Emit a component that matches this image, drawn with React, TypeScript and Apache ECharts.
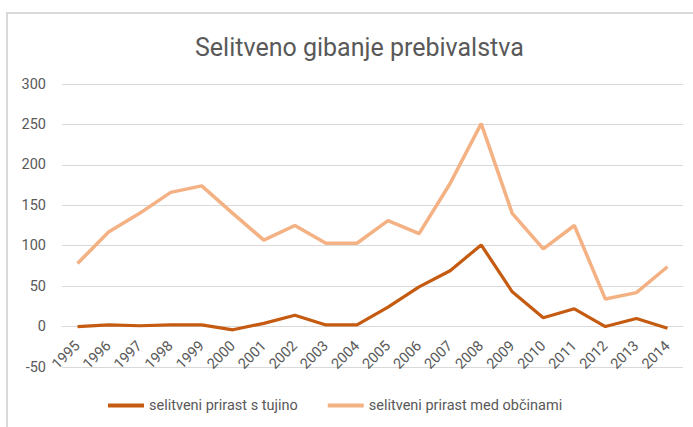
import React, { useEffect, useRef } from "react";
import * as echarts from "echarts";

const categories = ["1995","1996","1997","1998","1999","2000","2001","2002","2003","2004","2005","2006","2007","2008","2009","2010","2011","2012","2013","2014"];
const foreignValues = [0, 2, 1, 2, 2, -4, 4, 14, 2, 2, 24, 49, 69, 101, 43, 11, 22, 0, 10, -2];
const municipalValues = [78, 117, 140, 166, 174, 140, 107, 125, 103, 103, 131, 115, 177, 251, 140, 96, 125, 34, 42, 74];
const seriesNames = ["selitveni prirast s tujino", "selitveni prirast med občinami"];
const titleText = "Selitveno gibanje prebivalstva";

export default function App() {
  const ref = useRef<HTMLDivElement>(null);
  useEffect(() => {
    if (!ref.current) return;
    const chart = echarts.init(ref.current, null, { renderer: "svg" });
    const font = "Roboto";
    chart.setOption({
      animation: false,
      backgroundColor: "#ffffff",
      title: {
        text: titleText,
        left: 190,
        top: 30,
        textStyle: { fontFamily: font, fontSize: 25, fontWeight: "normal", color: "#595959" },
      },
      graphic: [
        {
          type: "rect",
          shape: { x: 7, y: 13, width: 720, height: 440 },
          style: { fill: "none", stroke: "#d9d9d9", lineWidth: 2 },
          silent: true,
        },
      ],
      legend: {
        left: 103,
        top: 393,
        itemWidth: 36,
        itemHeight: 4,
        itemGap: 30,
        icon: "rect",
        textStyle: { fontFamily: font, fontSize: 14.5, color: "#595959" },
        data: seriesNames,
      },
      grid: { left: 62, right: 10, top: 84, bottom: 60, containLabel: false },
      xAxis: {
        type: "category",
        data: categories,
        boundaryGap: true,
        offset: -40.4,
        axisLine: { show: true, onZero: false, lineStyle: { color: "#d9d9d9" } },
        axisTick: { show: false },
        axisLabel: { interval: 0, rotate: 45, margin: 17, fontFamily: font, fontSize: 14.5, color: "#595959" },
      },
      yAxis: {
        type: "value",
        min: -50,
        max: 300,
        interval: 50,
        axisLine: { show: false },
        axisTick: { show: false },
        axisLabel: { margin: 16, fontFamily: font, fontSize: 14.5, color: "#595959" },
        splitLine: { lineStyle: { color: "#d9d9d9", width: 1 } },
      },
      series: [
        {
          name: seriesNames[0],
          type: "line",
          data: foreignValues,
          symbol: "none",
          itemStyle: { color: "#C55A11" },
          lineStyle: { color: "#C55A11", width: 3.2 },
        },
        {
          name: seriesNames[1],
          type: "line",
          data: municipalValues,
          symbol: "none",
          itemStyle: { color: "#F4B183" },
          lineStyle: { color: "#F4B183", width: 3.5 },
        },
      ],
    });
    return () => chart.dispose();
  }, []);
  return (
    <div
      ref={ref}
      style={{ position: "fixed", left: 0, top: 0, width: 693, height: 427 }}
    />
  );
}
